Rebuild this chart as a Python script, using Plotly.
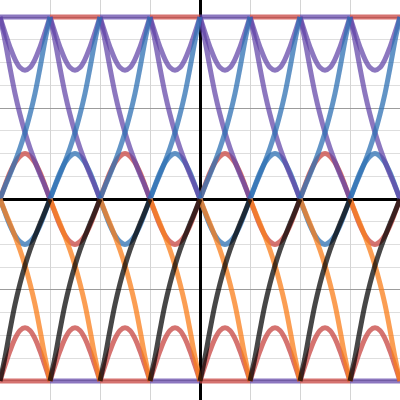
import plotly.graph_objects as go

# ---- data ----
# left edge of each repeating interval on the x axis (one arch per unit)
INTERVAL_STARTS = [-4, -3, -2, -1, 0, 1, 2, 3]
# sample positions inside one interval (fraction of the interval)
FRACTIONS = [0.0, 0.1, 0.2, 0.3, 0.4, 0.5, 0.6, 0.7, 0.8, 0.9, 1.0]
# upper rising curve (0 -> 2)
UPPER_RISE = [0.0, 0.14, 0.27, 0.41, 0.56, 0.73, 0.93, 1.16, 1.44, 1.74, 2.0]
# small arch around the x axis (0 -> 0.5 -> 0)
MID_ARCH = [0.0, 0.15, 0.29, 0.40, 0.47, 0.50, 0.47, 0.40, 0.29, 0.15, 0.0]
# cup hanging from the top level (2 -> 1.415 -> 2)
TOP_CUP = [2.0, 1.83, 1.67, 1.535, 1.445, 1.415, 1.445, 1.535, 1.67, 1.83, 2.0]
TOP_LEVEL = 2.0
BOTTOM_LEVEL = -2.0

RED = "rgba(199,68,64,0.75)"
BLUE = "rgba(45,112,179,0.75)"
PURPLE = "rgba(96,66,166,0.72)"
ORANGE = "rgba(250,126,25,0.75)"
BLACK = "rgba(0,0,0,0.72)"

fig = go.Figure()


def add_curve(values, color, which):
    xs, ys = [], []
    for i, s in enumerate(INTERVAL_STARTS):
        if not which(i):
            continue
        xs += [s + f for f in FRACTIONS] + [None]
        ys += list(values) + [None]
    fig.add_trace(go.Scatter(x=xs, y=ys, mode="lines",
                             line=dict(color=color, width=5, shape="spline", smoothing=1.0),
                             hoverinfo="skip", showlegend=False))


even = lambda i: i % 2 == 0
odd = lambda i: i % 2 == 1
every = lambda i: True

top_line = [TOP_LEVEL for _ in FRACTIONS]
bottom_line = [BOTTOM_LEVEL for _ in FRACTIONS]
upper_fall = list(reversed(UPPER_RISE))
lower_rise = [-v for v in reversed(UPPER_RISE)]
lower_fall = [-v for v in UPPER_RISE]
low_dip = [-v for v in MID_ARCH]
bottom_arch = [-v for v in TOP_CUP]

# horizontal levels
add_curve(top_line, PURPLE, even)
add_curve(top_line, RED, odd)
add_curve(bottom_line, RED, even)
add_curve(bottom_line, PURPLE, odd)
# cups / arches
add_curve(TOP_CUP, PURPLE, every)
add_curve(bottom_arch, RED, every)
add_curve(MID_ARCH, RED, even)
add_curve(MID_ARCH, BLUE, odd)
add_curve(low_dip, BLUE, even)
add_curve(low_dip, RED, odd)
# crossing curves
add_curve(upper_fall, PURPLE, every)
add_curve(UPPER_RISE, BLUE, every)
add_curve(lower_fall, ORANGE, every)
add_curve(lower_rise, BLACK, every)

fig.update_layout(
    width=400, height=400,
    margin=dict(l=0, r=0, t=0, b=0),
    paper_bgcolor="white", plot_bgcolor="white",
    xaxis=dict(range=[-4, 4], dtick=1, tick0=0, showgrid=True, gridcolor="#d4d4d4", gridwidth=1,
               zeroline=True, zerolinecolor="black", zerolinewidth=2.5,
               showticklabels=False, ticks="", showline=False, fixedrange=True),
    yaxis=dict(range=[-2.209, 2.187], dtick=1, tick0=0, showgrid=True, gridcolor="#9c9c9c", gridwidth=1,
               minor=dict(dtick=0.25, showgrid=True, gridcolor="#dedede", gridwidth=1),
               zeroline=True, zerolinecolor="black", zerolinewidth=2.5,
               showticklabels=False, ticks="", showline=False, fixedrange=True),
)

fig.write_html("out.html", config={"displayModeBar": False},
               post_script="document.body.style.margin='0';document.body.style.padding='0';")
